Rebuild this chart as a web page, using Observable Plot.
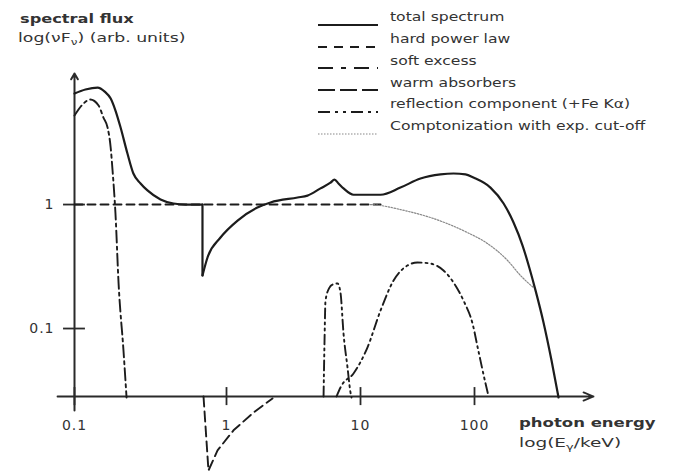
<!DOCTYPE html>
<html><head><meta charset="utf-8">
<script src="https://cdn.jsdelivr.net/npm/d3@7"></script>
<script src="https://cdn.jsdelivr.net/npm/@observablehq/plot@0.6"></script>
<style>
body{margin:0;background:#fff;}
#chart{position:relative;width:673px;height:474px;overflow:hidden;font-family:"DejaVu Sans",sans-serif;color:#333;background:#fff;}
#chart svg.plot{position:absolute;left:0;top:0;}
.lbl{position:absolute;white-space:nowrap;line-height:1;transform-origin:left center;}
.lbl sub{font-size:0.7em;line-height:0;vertical-align:-0.3em;}
.key{position:absolute;width:60px;height:8px;}
</style></head><body><div id="chart"></div><script>
// ---- axis ticks ----
const xTicks = [0.1, 1, 10, 100];
const xTickLabels = ["0.1", "1", "10", "100"];
const yTicks = [1, 0.1];
const yTickLabels = ["1", "0.1"];

// ---- series (E in keV, F = nuF_nu, arbitrary units) ----
const totalE = [0.1,0.118,0.142,0.158,0.173,0.186,0.201,0.223,0.244,0.272,0.302,0.368,0.448,0.537,0.695,
  0.695,0.750,0.913,1.21,1.70,2.13,3.39,4.02,5.03,5.97,6.40,6.85,7.47,8.87,
  15.0,22.4,33.6,50.3,65.5,83.4,98.0,
  138,180,220,264,304,343,403,474,546];
const totalF = [7.86,8.46,8.78,8.15,7.16,5.73,4.18,2.58,1.78,1.48,1.30,1.10,1.02,1.0,1.0,
  0.268,0.374,0.542,0.743,0.946,1.04,1.14,1.18,1.35,1.50,1.59,1.48,1.35,1.20,
  1.20,1.37,1.62,1.75,1.78,1.75,1.65,
  1.37,1.02,0.716,0.467,0.305,0.203,0.112,0.0552,0.0278];
const totalEdgeIndex = 14; // absorption edge: last point before the drop

const powerE = [0.1, 15.0];
const powerF = [1, 1];

const softE = [0.1,0.113,0.127,0.144,0.155,0.165,0.173,0.178,0.186,0.195,0.210,0.220];
const softF = [5.22,6.41,7.03,6.29,5.03,4.18,2.88,1.88,0.846,0.231,0.0665,0.0278];

const warmE = [0.706,0.761,0.873,1.128,1.59,2.204];
const warmF = [0.0283,0.00716,0.0104,0.0151,0.0210,0.0273];

const feE = [5.30,5.39,5.48,5.87,6.18,6.74,7.09,7.47,8.00,8.42,8.57];
const feF = [0.0283,0.080,0.168,0.214,0.226,0.231,0.195,0.0911,0.0485,0.0305,0.0278];
const humpE = [6.62,7.22,8.87,11.5,15.0,19.5,25.8,31.6,41.1,53.5,65.5,80.1,96.0,108,125,133];
const humpF = [0.0283,0.0347,0.0434,0.0703,0.140,0.244,0.322,0.341,0.334,0.294,0.235,0.168,0.110,0.0665,0.036,0.0283];

const comptE = [12.2,15.0,22.4,43.7,86.8,130,195,253,329];
const comptF = [1.0,0.982,0.911,0.771,0.594,0.485,0.354,0.268,0.214];

const legendLabels = ["total spectrum","hard power law","soft excess","warm absorbers","reflection component (+Fe K\u03b1)","Comptonization with exp. cut-off"];

// axis extents (data units)
const axisF = 0.0283, axisTopF = 11.4, axisLowF = 0.0218;
const axisStartE = 0.0773, axisEndE = 1107;

// ---- styles ----
const ink = "#1c1c1c";
const styles = {
  total:  {stroke: ink, strokeWidth: 2.2, dash: null, key: null},
  power:  {stroke: ink, strokeWidth: 1.9, dash: "8,5", key: "9,7"},
  soft:   {stroke: ink, strokeWidth: 1.9, dash: "12,4,3,4", key: "15,8,5,8"},
  warm:   {stroke: ink, strokeWidth: 1.9, dash: "10,5", key: "17,5"},
  refl:   {stroke: ink, strokeWidth: 1.9, dash: "10,4,2,4,2,4", key: "12,5,3,5,3,5"},
  compt:  {stroke: "#888", strokeWidth: 1.2, dash: "1.5,1.5", key: "1.5,1.5"}
};
const order = ["total","power","soft","warm","refl","compt"];

const rows = (E, F, seg) => E.map((e, i) => ({E: e, F: F[i], seg}));
const totalRows = [
  ...rows(totalE.slice(0, totalEdgeIndex + 1), totalF.slice(0, totalEdgeIndex + 1), "a"),
  ...rows(totalE.slice(totalEdgeIndex, totalEdgeIndex + 2), totalF.slice(totalEdgeIndex, totalEdgeIndex + 2), "edge"),
  ...rows(totalE.slice(totalEdgeIndex + 1), totalF.slice(totalEdgeIndex + 1), "b")
];
const reflRows = [...rows(feE, feF, "fe"), ...rows(humpE, humpF, "hump")];

const lineOpts = (k, extra = {}) => ({x: "E", y: "F", stroke: styles[k].stroke, strokeWidth: styles[k].strokeWidth,
  strokeDasharray: styles[k].dash || undefined, ...extra});

const axisInk = "#2a2a2a";
const plot = Plot.plot({
  width: 673, height: 474,
  marginTop: 73, marginBottom: 78, marginLeft: 74, marginRight: 85,
  x: {type: "log", domain: [0.1, 1, 10, 100, 1000], range: [74, 226, 360, 474, 588], axis: null},
  y: {type: "log", domain: [axisF, axisTopF], axis: null},
  style: {fontFamily: '"DejaVu Sans", sans-serif', background: "transparent", letterSpacing: "1px", overflow: "visible"},
  marks: [
    Plot.arrow([{x1: axisStartE, x2: axisEndE, y1: axisF, y2: axisF}], {x1: "x1", x2: "x2", y1: "y1", y2: "y2", stroke: axisInk, strokeWidth: 1.8, headLength: 9, headAngle: 45}),
    Plot.arrow([{x1: 0.1, x2: 0.1, y1: axisLowF, y2: axisTopF}], {x1: "x1", x2: "x2", y1: "y1", y2: "y2", stroke: axisInk, strokeWidth: 2, headLength: 5, headAngle: 60}),
    Plot.ruleX(xTicks, {x: d => d, y1: 0.0239, y2: 0.0334, stroke: axisInk, strokeWidth: 1.8}),
    Plot.ruleY(yTicks, {y: d => d, x1: 0.0847, x2: 0.118, stroke: axisInk, strokeWidth: 1.8}),
    Plot.text(xTicks, {x: d => d, y: axisF, dy: 29, text: (d, i) => xTickLabels[i], fontSize: 14, fill: "#333"}),
    Plot.text(yTicks, {x: 0.1, y: d => d, dx: -20, textAnchor: "end", text: (d, i) => yTickLabels[i], fontSize: 14, fill: "#333"}),
    Plot.line(rows(powerE, powerF, "p"), lineOpts("power")),
    Plot.line(rows(comptE, comptF, "c"), lineOpts("compt", {curve: "monotone-x"})),
    Plot.line(rows(softE, softF, "s"), lineOpts("soft", {curve: "monotone-x"})),
    Plot.line(rows(warmE, warmF, "w"), lineOpts("warm", {curve: "linear"})),
    Plot.line(reflRows, lineOpts("refl", {z: "seg", curve: "monotone-x"})),
    Plot.line(totalRows, lineOpts("total", {z: "seg", curve: "monotone-x"}))
  ]
});
plot.classList.add("plot");
const chart = document.getElementById("chart");
chart.appendChild(plot);

function label(html, left, top, size, scale, weight) {
  const d = document.createElement("div");
  d.className = "lbl";
  d.innerHTML = html;
  d.style.left = left + "px";
  d.style.top = top + "px";
  d.style.fontSize = size + "px";
  d.style.fontWeight = weight || "normal";
  d.style.transform = `scaleX(${scale})`;
  chart.appendChild(d);
}
label("spectral flux", 20, 13, 12, 1.35, "bold");
label("log(\u03bdF<sub>\u03bd</sub>) (arb. units)", 18, 31, 13, 1.33);
label("photon energy", 519, 416, 13, 1.27, "bold");
label("log(E<sub>\u03b3</sub>/keV)", 519, 436, 13, 1.42);

const rowTop = 17.8, rowStep = 21.8;
order.forEach((k, i) => {
  const c = rowTop + i * rowStep;
  const s = styles[k];
  const key = document.createElement("div");
  key.className = "key";
  key.style.left = "318px";
  key.style.top = (c - 4) + "px";
  key.innerHTML = `<svg width="60" height="8"><line x1="0" x2="60" y1="4" y2="4" stroke="${s.stroke}" stroke-width="${s.strokeWidth}" ${s.key ? `stroke-dasharray="${s.key}"` : ""}/></svg>`;
  chart.appendChild(key);
  label(legendLabels[i], 390, c - 6.6, 12, 1.3);
});
</script></body></html>
